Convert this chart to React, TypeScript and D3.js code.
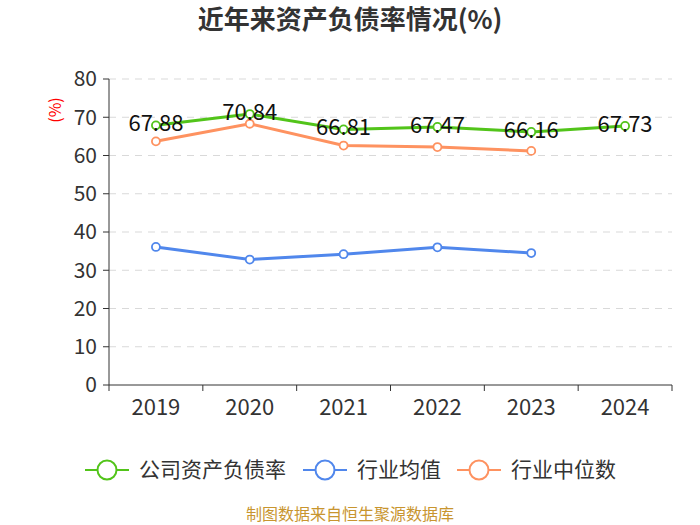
import React from 'react';
import * as d3 from 'd3';

const years = ['2019', '2020', '2021', '2022', '2023', '2024'];
const companyRatio = [67.88, 70.84, 66.81, 67.47, 66.16, 67.73];
const industryAvg = [36.1, 32.8, 34.2, 36.0, 34.5];
const industryMedian = [63.7, 68.3, 62.6, 62.2, 61.2];
const yTicks = [0, 10, 20, 30, 40, 50, 60, 70, 80];

const FONT = '"Noto Sans CJK SC", "Noto Sans", sans-serif';
const W = 700;
const H = 525;
const margin = { left: 109, right: 28, top: 79, bottom: 140 };

const series = [
  { name: '公司资产负债率', color: '#52c41a', values: companyRatio, labels: true },
  { name: '行业均值', color: '#5087ec', values: industryAvg, labels: false },
  { name: '行业中位数', color: '#fe9260', values: industryMedian, labels: false },
];

export default function App() {
  const x = d3.scaleBand<string>().domain(years).range([margin.left, W - margin.right]);
  const y = d3.scaleLinear().domain([0, 80]).range([H - margin.bottom, margin.top]);
  const cx = (i: number) => (x(years[i]) ?? 0) + x.bandwidth() / 2;
  const line = d3.line<number>().x((_, i) => cx(i)).y(d => y(d));

  const legendX = [85, 303, 457];

  return (
    <svg width={W} height={H} style={{ position: 'absolute', left: 0, top: 0 }} fontFamily={FONT}>
      <text x={W / 2} y={20} dy="0.36em" textAnchor="middle" fontSize={26} fontWeight="bold" fill="#333">
        近年来资产负债率情况(%)
      </text>
      <text
        transform="translate(55, 110) rotate(-90)"
        dy="0.35em"
        textAnchor="middle"
        fontSize={16}
        fill="#ff0000"
      >
        (%)
      </text>

      {yTicks.map(t => (
        <g key={t}>
          {t > 0 && (
            <line
              x1={margin.left}
              x2={W - margin.right}
              y1={y(t)}
              y2={y(t)}
              stroke="#d9d9d9"
              strokeDasharray="7,6"
            />
          )}
          <line x1={margin.left - 6} x2={margin.left} y1={y(t)} y2={y(t)} stroke="#333" />
          <text x={margin.left - 12} y={y(t)} dy="0.35em" textAnchor="end" fontSize={21} fill="#333">
            {t}
          </text>
        </g>
      ))}
      <line x1={margin.left} x2={margin.left} y1={y(80)} y2={y(0) + 6} stroke="#333" />
      <line x1={margin.left} x2={W - margin.right} y1={y(0)} y2={y(0)} stroke="#333" />
      {years.map((yr, i) => (
        <g key={yr}>
          <line
            x1={(x(yr) ?? 0) + x.bandwidth()}
            x2={(x(yr) ?? 0) + x.bandwidth()}
            y1={y(0)}
            y2={y(0) + 6}
            stroke="#333"
          />
          <text x={cx(i)} y={y(0) + 22} dy="0.35em" textAnchor="middle" fontSize={22} fill="#333">
            {yr}
          </text>
        </g>
      ))}

      {series.map(s => (
        <g key={s.name}>
          <path d={line(s.values) ?? ''} fill="none" stroke={s.color} strokeWidth={3} />
          {s.values.map((v, i) => (
            <circle key={i} cx={cx(i)} cy={y(v)} r={4} fill="#fff" stroke={s.color} strokeWidth={1.8} />
          ))}
        </g>
      ))}
      {series
        .filter(s => s.labels)
        .map(s =>
          s.values.map((v, i) => (
            <text key={i} x={cx(i)} y={y(v) - 2} dy="0.35em" textAnchor="middle" fontSize={22} fill="#111">
              {v.toFixed(2)}
            </text>
          )),
        )}

      {series.map((s, i) => (
        <g key={s.name} transform={`translate(${legendX[i]}, 470)`}>
          <line x1={0} x2={44} y1={0} y2={0} stroke={s.color} strokeWidth={2} />
          <circle cx={22} cy={0} r={9.5} fill="#fff" stroke={s.color} strokeWidth={2} />
          <text x={54} y={0} dy="0.35em" fontSize={21} fill="#333">
            {s.name}
          </text>
        </g>
      ))}

      <text x={W / 2} y={514} dy="0.35em" textAnchor="middle" fontSize={16} fill="#c8952f">
        制图数据来自恒生聚源数据库
      </text>
    </svg>
  );
}
